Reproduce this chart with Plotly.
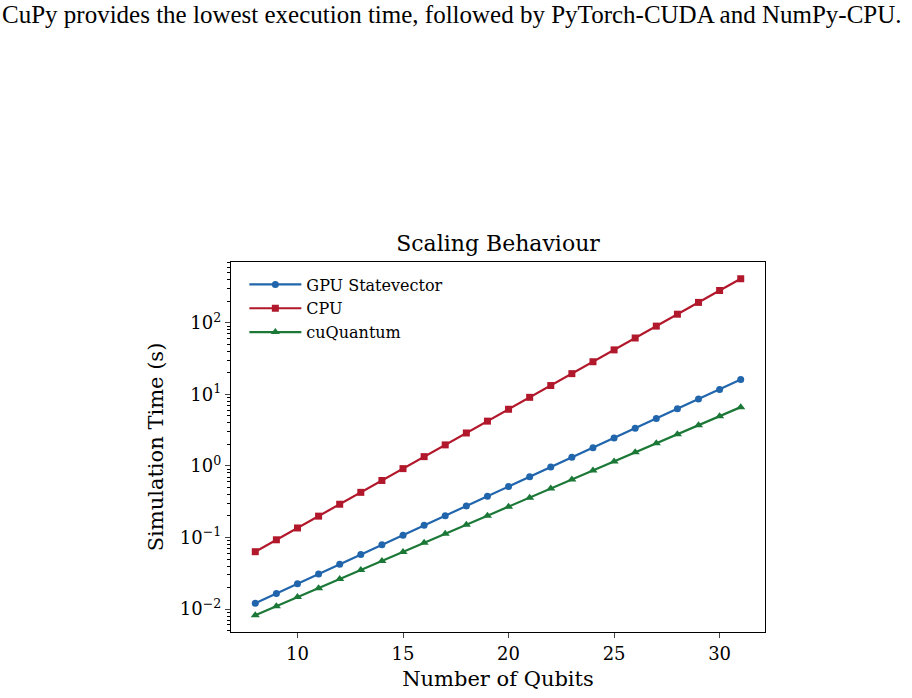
import plotly.graph_objects as go

qubits = list(range(8, 32))
gpu_statevector = [0.0121, 0.0165, 0.0226, 0.0309, 0.0423, 0.0578, 0.079, 0.108, 0.148, 0.202,
                   0.276, 0.377, 0.516, 0.705, 0.964, 1.32, 1.80, 2.46, 3.36, 4.60,
                   6.28, 8.59, 11.7, 16.1]
cpu = [0.0634, 0.093, 0.136, 0.199, 0.292, 0.428, 0.627, 0.918, 1.35, 1.97,
       2.89, 4.23, 6.2, 9.1, 13.3, 19.5, 28.6, 41.9, 61.4, 90,
       132, 193, 283, 413]
cuquantum = [0.0082, 0.0110, 0.0147, 0.0196, 0.0263, 0.0352, 0.0471, 0.0630, 0.0843, 0.1128,
             0.151, 0.202, 0.270, 0.361, 0.483, 0.647, 0.865, 1.158, 1.55, 2.07,
             2.77, 3.71, 4.96, 6.64]

series = [
    ("GPU Statevector", gpu_statevector, "#2166ac", "circle", 7),
    ("CPU", cpu, "#b2182b", "square", 7),
    ("cuQuantum", cuquantum, "#1b7837", "triangle-up", 8),
]

y_tickvals = [0.01, 0.1, 1, 10, 100]
y_ticktext = ["10<sup>−2</sup>", "10<sup>−1</sup>", "10<sup>0</sup>", "10<sup>1</sup>", "10<sup>2</sup>"]
y_minor_vals = [m * 10.0 ** k for k in range(-3, 3) for m in range(2, 10)]
x_tickvals = [10, 15, 20, 25, 30]

SERIF = "DejaVu Serif"

fig = go.Figure()
for name, vals, color, sym, size in series:
    fig.add_trace(go.Scatter(
        x=qubits, y=vals, name=name, mode="lines+markers",
        line=dict(color=color, width=2.2),
        marker=dict(symbol=sym, size=size, color=color),
    ))

W, H = 912, 698
L, R, T, B = 231, 147, 262, 64
pw, ph = W - L - R, H - T - B

fig.update_layout(
    width=W, height=H,
    margin=dict(l=L, r=R, t=T, b=B),
    paper_bgcolor="white", plot_bgcolor="white",
    font=dict(family=SERIF, color="black", size=16),
    title=dict(text="Scaling Behaviour", x=(L + pw / 2) / W, xanchor="center",
               y=1 - 243 / H, yanchor="middle", yref="container",
               font=dict(family=SERIF, size=22, color="black")),
    legend=dict(x=0.025, y=0.985, xanchor="left", yanchor="top",
                bgcolor="rgba(255,255,255,0)", font=dict(family=SERIF, size=16),
                itemwidth=52, tracegroupgap=2),
    showlegend=True,
)
fig.update_xaxes(
    range=[6.85, 32.15], tickvals=x_tickvals, ticks="outside", ticklen=5, tickwidth=1,
    showline=True, linecolor="black", linewidth=1.3, mirror=True, showgrid=False, zeroline=False,
    tickfont=dict(family=SERIF, size=18),
    title=dict(text="Number of Qubits", font=dict(family=SERIF, size=21), standoff=8),
)
fig.update_yaxes(
    type="log", range=[-2.32, 2.85], tickvals=y_tickvals, ticktext=y_ticktext,
    ticks="outside", ticklen=5, tickwidth=1,
    minor=dict(tickmode="array", tickvals=y_minor_vals, ticks="outside", ticklen=3,
               tickwidth=0.8, tickcolor="black", showgrid=False),
    showline=True, linecolor="black", linewidth=1.3, mirror=True, showgrid=False, zeroline=False,
    tickfont=dict(family=SERIF, size=18),
    title=dict(text="Simulation Time (s)", font=dict(family=SERIF, size=21), standoff=10),
)
fig.add_annotation(
    text="CuPy provides the lowest execution time, followed by PyTorch-CUDA and NumPy-CPU.",
    xref="paper", yref="paper", x=(0 - L) / pw, y=1 + (T - 13) / ph,
    xanchor="left", yanchor="middle", showarrow=False,
    font=dict(family="Liberation Serif", size=25, color="black"),
)
fig.write_html("out.html")
